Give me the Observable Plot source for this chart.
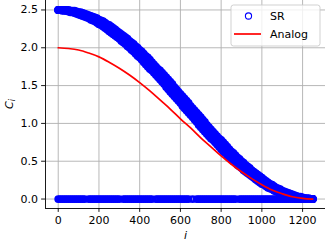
<!DOCTYPE html>
<html>
<head>
<meta charset="utf-8">
<script src="https://cdn.jsdelivr.net/npm/d3@7"></script>
<script src="https://cdn.jsdelivr.net/npm/@observablehq/plot@0.6"></script>
<style>
  html, body { margin: 0; padding: 0; background: white; }
</style>
</head>
<body>
<div id="chart"></div>
<script>
// index values i
const idx = [0,10,20,30,40,50,60,70,80,90,100,110,120,130,140,150,160,170,180,190,
  200,210,220,230,240,250,260,270,280,290,300,310,320,330,340,350,360,370,380,390,
  400,410,420,430,440,450,460,470,480,490,500,510,520,530,540,550,560,570,580,590,
  600,610,620,630,640,650,660,670,680,690,700,710,720,730,740,750,760,770,780,790,
  800,810,820,830,840,850,860,870,880,890,900,910,920,930,940,950,960,970,980,990,
  1000,1010,1020,1030,1040,1050,1060,1070,1080,1090,1100,1110,1120,1130,1140,1150,
  1160,1170,1180,1190,1200,1210,1220,1230,1240,1250];
// SR values: middle of the upper band
const srCurve = [2.50,2.50,2.50,2.50,2.49,2.49,2.49,2.48,2.47,2.47,
  2.46,2.45,2.44,2.43,2.42,2.41,2.40,2.39,2.37,2.36,
  2.35,2.33,2.31,2.30,2.28,2.26,2.24,2.22,2.20,2.18,
  2.16,2.14,2.12,2.09,2.07,2.05,2.02,2.00,1.97,1.95,
  1.92,1.89,1.87,1.84,1.81,1.78,1.75,1.72,1.70,1.67,
  1.64,1.61,1.58,1.55,1.52,1.48,1.45,1.42,1.39,1.36,
  1.33,1.30,1.27,1.23,1.20,1.17,1.14,1.11,1.08,1.05,
  1.02,0.98,0.95,0.92,0.89,0.86,0.83,0.80,0.78,0.75,
  0.72,0.69,0.66,0.63,0.61,0.58,0.55,0.53,0.50,0.48,
  0.45,0.43,0.41,0.38,0.36,0.34,0.32,0.30,0.28,0.26,
  0.24,0.22,0.20,0.19,0.17,0.15,0.14,0.13,0.11,0.10,
  0.09,0.08,0.07,0.06,0.05,0.04,0.03,0.03,0.02,0.01,
  0.01,0.01,0.00,0.00,0.00,0.00];
// SR values: upper edge of the band
const srUpper = [2.50,2.50,2.50,2.50,2.50,2.50,2.49,2.49,2.49,2.48,
  2.47,2.47,2.46,2.45,2.44,2.43,2.42,2.41,2.40,2.39,
  2.37,2.36,2.35,2.33,2.31,2.30,2.28,2.26,2.24,2.22,
  2.20,2.18,2.16,2.14,2.12,2.09,2.07,2.05,2.02,2.00,
  1.97,1.95,1.92,1.89,1.87,1.84,1.81,1.78,1.75,1.72,
  1.70,1.67,1.64,1.61,1.58,1.55,1.52,1.48,1.45,1.42,
  1.39,1.36,1.33,1.30,1.27,1.23,1.20,1.17,1.14,1.11,
  1.08,1.05,1.02,0.98,0.95,0.92,0.89,0.86,0.83,0.80,
  0.78,0.75,0.72,0.69,0.66,0.63,0.61,0.58,0.55,0.53,
  0.50,0.48,0.45,0.43,0.41,0.38,0.36,0.34,0.32,0.30,
  0.28,0.26,0.24,0.22,0.20,0.19,0.17,0.15,0.14,0.13,
  0.11,0.10,0.09,0.08,0.07,0.06,0.05,0.04,0.03,0.03,
  0.02,0.01,0.01,0.01,0.00,0.00];
// SR values: lower edge of the band
const srLower = [2.50,2.50,2.49,2.49,2.49,2.48,2.47,2.47,2.46,2.45,
  2.44,2.43,2.42,2.41,2.40,2.39,2.37,2.36,2.35,2.33,
  2.31,2.30,2.28,2.26,2.24,2.22,2.20,2.18,2.16,2.14,
  2.12,2.09,2.07,2.05,2.02,2.00,1.97,1.95,1.92,1.89,
  1.87,1.84,1.81,1.78,1.75,1.72,1.70,1.67,1.64,1.61,
  1.58,1.55,1.52,1.48,1.45,1.42,1.39,1.36,1.33,1.30,
  1.27,1.23,1.20,1.17,1.14,1.11,1.08,1.05,1.02,0.98,
  0.95,0.92,0.89,0.86,0.83,0.80,0.78,0.75,0.72,0.69,
  0.66,0.63,0.61,0.58,0.55,0.53,0.50,0.48,0.45,0.43,
  0.41,0.38,0.36,0.34,0.32,0.30,0.28,0.26,0.24,0.22,
  0.20,0.19,0.17,0.15,0.14,0.13,0.11,0.10,0.09,0.08,
  0.07,0.06,0.05,0.04,0.03,0.03,0.02,0.01,0.01,0.01,
  0.00,0.00,0.00,0.00,0.00,0.00];
// indices missing from the SR zero row (small gaps)
const zeroGaps = [140,310,470,650,670,880];
// Analog curve
const analogI = [0,50,100,150,200,250,300,350,400,450,500,550,600,650,700,750,800,850,900,950,1000,1050,1100,1150,1200,1250];
const analogC = [2.00,1.99,1.97,1.93,1.88,1.81,1.73,1.64,1.54,1.43,1.31,1.19,1.06,0.94,0.81,0.69,0.57,0.46,0.36,0.27,0.19,0.12,0.07,0.03,0.01,0.00];
// ticks
const xTicks = [0,200,400,600,800,1000,1200];
const yTicks = [0.0,0.5,1.0,1.5,2.0,2.5];

const sr = [
  ...idx.map((i, k) => ({i, c: srUpper[k]})),
  ...idx.map((i, k) => ({i, c: srCurve[k]})),
  ...idx.map((i, k) => ({i, c: srLower[k]}))
];
const zeros = idx.filter(i => !zeroGaps.includes(i)).map(i => ({i, c: 0}));
const analog = analogI.map((i, k) => ({i, c: analogC[k]}));

const xDom = [-62.5, 1312.5];
const yDom = [-0.125, 2.625];
const blue = "#0000ff";

const plot = Plot.plot({
  width: 325, height: 246,
  marginLeft: 45, marginRight: 0, marginTop: 0, marginBottom: 38,
  style: {fontFamily: "DejaVu Sans", fontSize: "11px", background: "white", color: "black"},
  x: {domain: xDom},
  y: {domain: yDom},
  marks: [
    Plot.gridX(xTicks, {stroke: "#b0b0b0", strokeOpacity: 1, strokeWidth: 0.9}),
    Plot.gridY(yTicks, {stroke: "#b0b0b0", strokeOpacity: 1, strokeWidth: 0.9}),
    Plot.dot(zeros, {x: "i", y: "c", r: 2.6, stroke: blue, strokeWidth: 2.6, fill: "none"}),
    Plot.dot(sr, {x: "i", y: "c", r: 2.4, stroke: blue, strokeWidth: 3.2, fill: "none"}),
    Plot.line(analog, {x: "i", y: "c", stroke: "#ff0000", strokeWidth: 1.7, curve: "catmull-rom"}),
    Plot.ruleX([xDom[0]], {stroke: "black", strokeWidth: 0.9}),
    Plot.ruleY([yDom[0]], {stroke: "black", strokeWidth: 0.9}),
    Plot.axisX(xTicks, {tickSize: 3.9, tickPadding: 3.5, label: null, tickFormat: d => String(d), strokeWidth: 0.9}),
    Plot.axisY(yTicks, {tickSize: 3.9, tickPadding: 3.5, label: null, tickFormat: d => d.toFixed(1), strokeWidth: 0.9}),
    Plot.text(["i"], {frameAnchor: "bottom", dy: 30, fontStyle: "italic", fontSize: 11, fill: "black"})
  ]
});

document.getElementById("chart").appendChild(plot);

const svg = d3.select(plot);
// y label C_i
const yl = svg.append("text")
  .attr("transform", "translate(13,104) rotate(-90)")
  .attr("text-anchor", "middle")
  .attr("font-family", "DejaVu Sans")
  .attr("font-size", 11)
  .attr("font-style", "italic")
  .attr("fill", "black");
yl.append("tspan").text("C");
yl.append("tspan").attr("font-size", 8).attr("dy", 2).text("i");

// legend
const lg = svg.append("g").attr("font-family", "DejaVu Sans").attr("font-size", 11)
  .attr("fill", "black").attr("text-anchor", "start");
lg.append("rect").attr("x", 231).attr("y", 5).attr("width", 89).attr("height", 41).attr("rx", 2.5)
  .attr("fill", "white").attr("fill-opacity", 0.8).attr("stroke", "#cccccc").attr("stroke-width", 0.9);
lg.append("circle").attr("cx", 248.5).attr("cy", 16).attr("r", 3.1).attr("fill", "none").attr("stroke", blue).attr("stroke-width", 1.1);
lg.append("text").attr("x", 270).attr("y", 16).attr("dy", "0.35em").attr("text-anchor", "start").text("SR");
lg.append("line").attr("x1", 234).attr("x2", 261).attr("y1", 34).attr("y2", 34).attr("stroke", "#ff0000").attr("stroke-width", 1.7);
lg.append("text").attr("x", 270).attr("y", 34).attr("dy", "0.35em").attr("text-anchor", "start").text("Analog");
</script>
</body>
</html>
